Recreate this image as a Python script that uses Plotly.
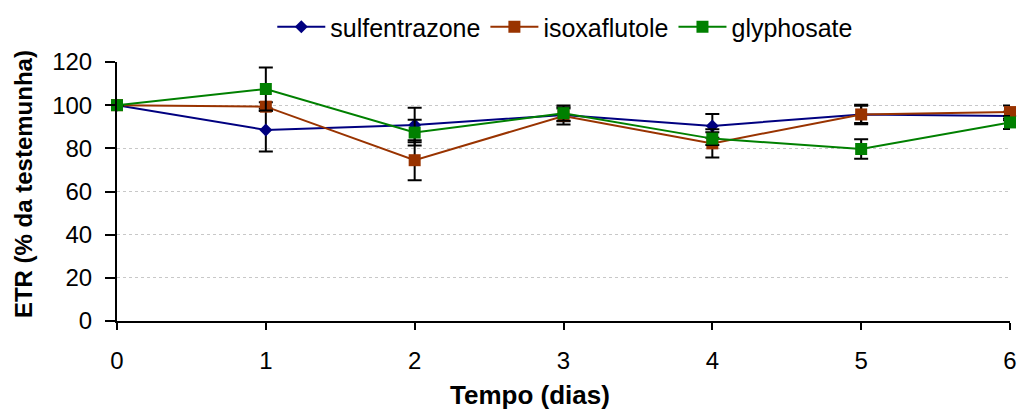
import plotly.graph_objects as go

days = [0, 1, 2, 3, 4, 5, 6]
sulfentrazone = [100, 88.5, 90.8, 95.5, 90.4, 95.7, 95.0]
sulfentrazone_err = [0, 10, 8, 3, 5.5, 4.5, 2]
isoxaflutole = [100, 99.3, 74.5, 95.0, 82.3, 95.7, 96.8]
isoxaflutole_err = [0, 2, 9.3, 4, 6.5, 4, 3]
glyphosate = [100, 107.5, 87.3, 96.3, 84.5, 79.7, 92.0]
glyphosate_err = [0, 10, 6, 3.5, 3, 4.5, 3]

FONT = "Arial, Liberation Sans, sans-serif"

def series(name, y, err, color, symbol, size):
    return go.Scatter(
        x=days, y=y, name=name, mode="lines+markers", cliponaxis=False,
        line=dict(color=color, width=2),
        marker=dict(color=color, symbol=symbol, size=size, line=dict(width=0)),
        error_y=dict(type="data", array=err, visible=True, color="black",
                     thickness=2, width=7),
    )

fig = go.Figure()
fig.add_trace(series("sulfentrazone", sulfentrazone, sulfentrazone_err, "#000080", "diamond", 10))
fig.add_trace(series("isoxaflutole", isoxaflutole, isoxaflutole_err, "#993300", "square", 12))
fig.add_trace(series("glyphosate", glyphosate, glyphosate_err, "#008000", "square", 12))

fig.update_layout(
    width=1019, height=414,
    margin=dict(l=117, r=9, t=62, b=93, autoexpand=False),
    plot_bgcolor="white", paper_bgcolor="white",
    font=dict(family=FONT, size=24, color="black"),
    showlegend=True,
    legend=dict(orientation="h", x=0.502, xanchor="center", y=1.135, yanchor="middle",
                yref="paper", font=dict(size=25), tracegroupgap=0, itemwidth=48,
                bgcolor="rgba(0,0,0,0)"),
    xaxis=dict(range=[0, 6], tickvals=days, ticks="outside", ticklen=7,
               tickwidth=2, tickcolor="black", showline=True, linecolor="black",
               linewidth=2, showgrid=False, zeroline=False, automargin=False,
               ticklabelstandoff=10, tickfont=dict(size=24)),
    yaxis=dict(range=[0, 120], tickvals=[0, 20, 40, 60, 80, 100, 120], ticks="outside",
               ticklen=10, tickwidth=2, tickcolor="black", showline=True,
               linecolor="black", linewidth=2, showgrid=True,
               gridcolor="#c8c8c8", griddash="3px,3px", gridwidth=1, zeroline=False,
               automargin=False, ticklabelstandoff=8, tickfont=dict(size=24)),
    annotations=[
        dict(text="<b>Tempo (dias)</b>", xref="paper", yref="paper", x=0.4625, y=-0.352,
             xanchor="center", yanchor="bottom", showarrow=False, font=dict(size=26)),
        dict(text="<b>ETR (% da testemunha)</b>", xref="paper", yref="paper", x=-0.104,
             y=0.529, xanchor="center", yanchor="middle", textangle=-90, showarrow=False,
             font=dict(size=24)),
    ],
)

fig.write_html("out.html", config={"displayModeBar": False},
               post_script="document.body.style.margin='0';")
